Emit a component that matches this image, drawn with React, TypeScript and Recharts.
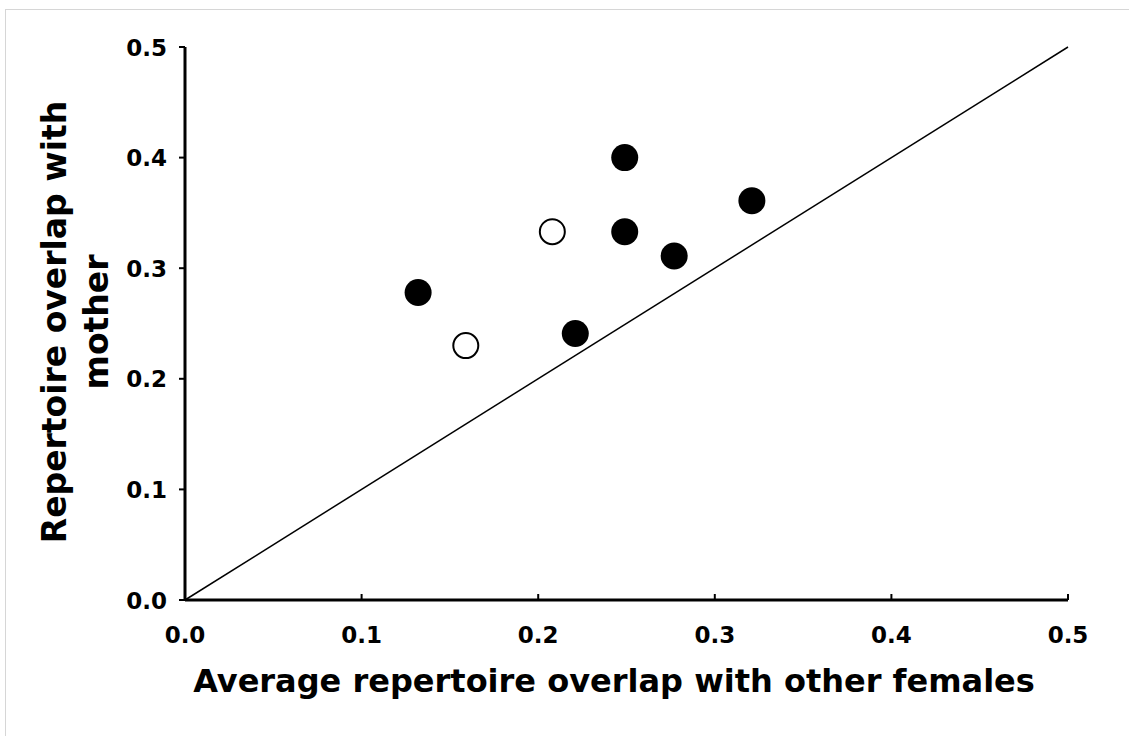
import React from 'react';
import { ScatterChart, Scatter, XAxis, YAxis, ReferenceLine } from 'recharts';

const FONT = '"DejaVu Sans", Verdana, sans-serif';

// mother overlap vs average overlap with other females
const filledX = [0.132, 0.221, 0.249, 0.249, 0.277, 0.321];
const filledY = [0.278, 0.241, 0.4, 0.333, 0.311, 0.361];
const openX = [0.159, 0.208];
const openY = [0.23, 0.333];

const ticks = [0, 0.1, 0.2, 0.3, 0.4, 0.5];
const identityLine = [0, 0.5];

const filledPts = filledX.map((x, i) => ({ x, y: filledY[i] }));
const openPts = openX.map((x, i) => ({ x, y: openY[i] }));

const XTick = (props: any) => {
  const { x, y, payload } = props;
  const axisY = y - 12;
  return (
    <g>
      <line x1={x} y1={axisY} x2={x} y2={axisY - 6} stroke="#000" strokeWidth={2} />
      <text x={x} y={y} dy={31} textAnchor="middle" fontFamily={FONT} fontWeight="bold" fontSize={23} fill="#000">
        {payload.value.toFixed(1)}
      </text>
    </g>
  );
};

const YTick = (props: any) => {
  const { x, y, payload } = props;
  return (
    <text x={x} y={y} dy={8.5} textAnchor="end" fontFamily={FONT} fontWeight="bold" fontSize={23} fill="#000">
      {payload.value.toFixed(1)}
    </text>
  );
};

export default function App() {
  return (
    <div style={{ position: 'absolute', left: 0, top: 0, width: 1129, height: 736, overflow: 'hidden', background: '#fff' }}>
      <div style={{ position: 'absolute', left: 5, top: 9, width: 1200, height: 800, border: '1px solid #d6d6d6' }} />
      <div style={{ position: 'absolute', left: 0, top: 0 }}>
        <ScatterChart width={1129} height={736} margin={{ top: 47, right: 61, bottom: 0, left: 0 }}>
          <XAxis
            type="number"
            dataKey="x"
            domain={[0, 0.5]}
            ticks={ticks}
            tick={<XTick />}
            tickLine={false}
            tickSize={0}
            tickMargin={12}
            axisLine={{ stroke: '#000', strokeWidth: 3 }}
            height={136}
            allowDataOverflow
          />
          <YAxis
            type="number"
            dataKey="y"
            domain={[0, 0.5]}
            ticks={ticks}
            tick={<YTick />}
            tickLine={{ stroke: '#000', strokeWidth: 2 }}
            tickSize={6}
            tickMargin={12}
            axisLine={{ stroke: '#000', strokeWidth: 3 }}
            width={185}
            allowDataOverflow
          />
          <ReferenceLine
            segment={[
              { x: identityLine[0], y: identityLine[0] },
              { x: identityLine[1], y: identityLine[1] },
            ]}
            stroke="#000"
            strokeWidth={1.5}
            ifOverflow="visible"
          />
          <Scatter
            data={filledPts}
            isAnimationActive={false}
            shape={(p: any) => <circle cx={p.cx} cy={p.cy} r={13.5} fill="#000" />}
          />
          <Scatter
            data={openPts}
            isAnimationActive={false}
            shape={(p: any) => <circle cx={p.cx} cy={p.cy} r={12.5} fill="#fff" stroke="#000" strokeWidth={2} />}
          />
          <text x={614} y={692} textAnchor="middle" fontFamily={FONT} fontWeight="bold" fontSize={32} fill="#000">
            Average repertoire overlap with other females
          </text>
          <text transform="translate(66,322) rotate(-90)" textAnchor="middle" fontFamily={FONT} fontWeight="bold" fontSize={33} fill="#000">
            Repertoire overlap with
          </text>
          <text transform="translate(108,322) rotate(-90)" textAnchor="middle" fontFamily={FONT} fontWeight="bold" fontSize={33} fill="#000">
            mother
          </text>
        </ScatterChart>
      </div>
    </div>
  );
}
